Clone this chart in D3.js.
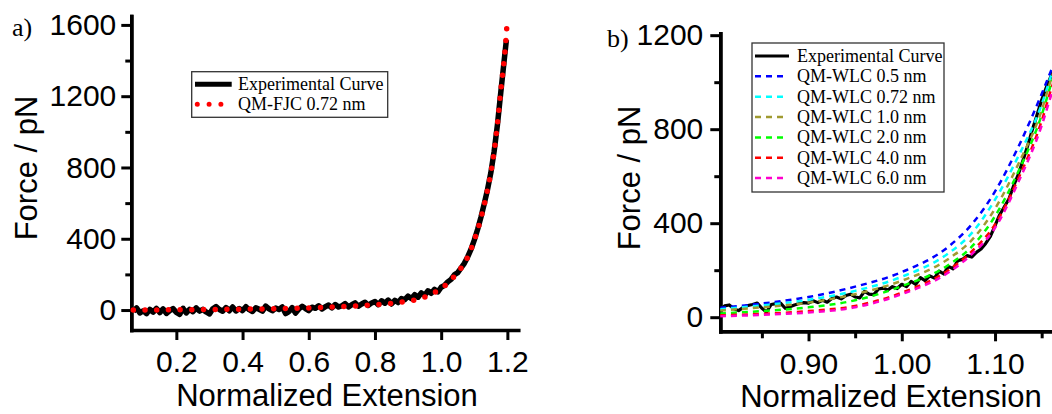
<html>
<head>
<script src="https://d3js.org/d3.v7.min.js"></script>
<style>
  body { margin: 0; background: #fff; }
  text { font-family: Arial, "Liberation Sans", sans-serif; fill: #000; }
  .axis path, .axis line { stroke: #000; }
  .axis path { stroke-width: 3.5; }
  .axis line { stroke-width: 3; }
  .axis text { font-size: 30px; }
  .title { font-size: 31px; }
  .ytitle { font-size: 31px; }
  .legend text, .panel { font-family: "Times New Roman", "Liberation Serif", serif; }
  .legend text { font-size: 18px; }
  .panel { font-size: 26px; }
</style>
</head>
<body>
<svg id="chart" width="1052" height="414"></svg>
<script>
// panel a: experimental curve
const extA = [0.07,0.08,0.09,0.10,0.11,0.12,0.13,0.14,0.15,0.16,0.17,0.18,0.19,0.20,0.21,0.22,0.23,0.24,0.25,0.26,
  0.27,0.28,0.29,0.30,0.31,0.32,0.33,0.34,0.35,0.36,0.37,0.38,0.39,0.40,0.41,0.42,0.43,0.44,0.45,0.46,
  0.47,0.48,0.49,0.50,0.51,0.52,0.53,0.54,0.55,0.56,0.57,0.58,0.59,0.60,0.61,0.62,0.63,0.64,0.65,0.66,
  0.67,0.68,0.69,0.70,0.71,0.72,0.73,0.74,0.75,0.76,0.77,0.78,0.79,0.80,0.81,0.82,0.83,0.84,0.85,0.86,
  0.87,0.88,0.89,0.90,0.91,0.92,0.93,0.94,0.95,0.96,0.97,0.98,0.99,1.00,1.01,1.02,1.03,1.04,1.05,1.06,
  1.07,1.08,1.09,1.10,1.11,1.12,1.13,1.14,1.15,1.16,1.17,1.18,1.19,1.197];
const forceA = [-8,12,-16,-4,-20,4,-12,9,-14,6,-19,-3,8,-13,-24,10,-16,4,-9,12,
  -6,4,-11,-22,7,19,3,-7,14,-4,17,-5,9,-3,19,2,-8,13,4,-6,
  22,7,-4,11,3,17,-20,-9,14,-17,6,21,8,-3,16,10,24,6,19,28,
  12,31,17,24,36,18,30,40,22,34,44,26,40,48,30,52,38,56,34,54,
  42,64,58,78,64,86,72,96,82,108,94,116,102,128,138,158,172,198,210,236,
  262,298,340,392,452,520,596,676,770,890,1040,1220,1395,1515];

// panel a: QM-FJC fit
const fjcExt = [0.07,0.15,0.25,0.35,0.45,0.55,0.62,0.68,0.74,0.80,0.85,0.88,0.91,0.94,0.97,1.00,1.02,1.04,1.06,1.08,
  1.10,1.12,1.13,1.14,1.15,1.16,1.17,1.18,1.19,1.195,1.20];
const fjcForce = [0,1,2,4,6,9,13,18,23,29,37,44,53,66,88,122,150,190,236,296,
  392,515,590,675,770,890,1045,1230,1400,1500,1640];

// panel b: experimental curve
const extB = [0.805,0.810,0.815,0.820,0.825,0.830,0.835,0.840,0.845,0.850,0.855,0.860,0.865,0.870,0.875,0.880,0.885,0.890,0.895,0.900,
  0.905,0.910,0.915,0.920,0.925,0.930,0.935,0.940,0.945,0.950,0.955,0.960,0.965,0.970,0.975,0.980,0.985,0.990,0.995,1.000,
  1.005,1.010,1.015,1.020,1.025,1.030,1.035,1.040,1.045,1.050,1.055,1.060,1.065,1.070,1.075,1.080,1.085,1.090,1.095,1.100,
  1.105,1.110,1.115,1.120,1.125,1.130,1.135,1.140,1.145,1.150,1.155,1.160,1.165];
const forceB = [30,48,52,36,28,42,50,54,60,38,22,54,58,60,38,44,52,58,62,60,
  70,62,72,64,80,86,78,92,98,86,82,110,98,96,120,124,116,130,122,140,
  130,152,140,168,156,176,166,196,184,216,206,240,246,262,256,276,290,314,344,390,
  436,470,504,560,608,668,730,798,860,924,978,1026,1070];

// panel b: QM-WLC fits
const wlcExt = [0.805,0.85,0.90,0.95,1.00,1.05,1.075,1.10,1.125,1.15,1.161,1.172];
const wlcNames = ["QM-WLC 0.5 nm","QM-WLC 0.72 nm","QM-WLC 1.0 nm","QM-WLC 2.0 nm","QM-WLC 4.0 nm","QM-WLC 6.0 nm"];
const wlcColors = ["#0000ff","#00ffff","#a09a30","#00ff00","#ff0000","#ff00cc"];
const wlc05 = [40,58,86,130,192,300,395,535,725,950,1058,1170];
const wlc072 = [34,50,74,112,172,272,358,500,685,905,1038,1150];
const wlc10 = [28,42,62,98,155,248,328,462,652,880,1023,1140];
const wlc20 = [16,26,42,72,132,222,300,430,620,860,1002,1120];
const wlc40 = [8,14,26,48,104,200,280,395,590,835,980,1100];
const wlc60 = [4,10,20,42,98,190,268,380,575,815,955,1080];
const wlcSeries = [wlc05, wlc072, wlc10, wlc20, wlc40, wlc60];

const xTicksA = [0.2,0.4,0.6,0.8,1.0,1.2];
const yTicksA = [0,400,800,1200,1600];
const yMinorA = [200,600,1000,1400];
const xTicksB = [0.90,1.00,1.10];
const xMinorB = [0.85,0.95,1.05,1.15];
const yTicksB = [0,400,800,1200];
const yMinorB = [200,600,1000];

const svg = d3.select("#chart");

const xA = d3.scaleLinear().domain([0.0639, 1.233]).range([131.3, 518.3]);
const yA = d3.scaleLinear().domain([-112, 1650]).range([330, 16]);
const xB = d3.scaleLinear().domain([0.8054, 1.1718]).range([720.3, 1062]);
const yB = d3.scaleLinear().domain([-60, 1208]).range([331.3, 33.3]);

function drawAxes(x, y, xt, xm, yt, ym, xfmt, ylabPad) {
  const x0 = x.range()[0], y0 = y.range()[0];
  if (ym) svg.append("g").attr("class", "axis").attr("transform", `translate(${x0},0)`)
    .call(d3.axisLeft(y).tickValues(ym).tickSize(6).tickSizeOuter(0).tickFormat(""));
  if (xm) svg.append("g").attr("class", "axis").attr("transform", `translate(0,${y0})`)
    .call(d3.axisBottom(x).tickValues(xm).tickSize(7).tickSizeOuter(0).tickFormat(""));
  svg.append("g").attr("class", "axis").attr("transform", `translate(${x0},0)`)
    .call(d3.axisLeft(y).tickValues(yt).tickSize(10).tickPadding(ylabPad).tickSizeOuter(0).tickFormat(d3.format("d")));
  svg.append("g").attr("class", "axis").attr("transform", `translate(0,${y0})`)
    .call(d3.axisBottom(x).tickValues(xt).tickSize(10).tickPadding(11).tickSizeOuter(0).tickFormat(d3.format(xfmt)));
  svg.selectAll(".axis path").attr("stroke-linecap", "square");
}

drawAxes(xA, yA, xTicksA, null, yTicksA, yMinorA, ".1f", 5);
drawAxes(xB, yB, xTicksB, xMinorB, yTicksB, yMinorB, ".2f", 7);

// clip for panel b data
svg.append("clipPath").attr("id", "clipB").append("rect")
  .attr("x", xB.range()[0]).attr("y", yB.range()[1]).attr("width", 400).attr("height", yB.range()[0] - yB.range()[1]);

const lineA = d3.line().x(d => xA(d[0])).y(d => yA(d[1]));
const lineB = d3.line().x(d => xB(d[0])).y(d => yB(d[1]));

// panel a curves
svg.append("path").attr("d", lineA(d3.zip(extA, forceA)))
  .attr("fill", "none").attr("stroke", "#000").attr("stroke-width", 5.5).attr("stroke-linejoin", "round");
svg.append("path").attr("d", lineA.curve(d3.curveMonotoneX)(d3.zip(fjcExt, fjcForce)))
  .attr("fill", "none").attr("stroke", "#ff0000").attr("stroke-width", 5.5)
  .attr("stroke-linecap", "round").attr("stroke-dasharray", "0 11.7");

// panel b curves
const gB = svg.append("g").attr("clip-path", "url(#clipB)");
gB.append("path").attr("d", lineB(d3.zip(extB, forceB)))
  .attr("fill", "none").attr("stroke", "#000").attr("stroke-width", 3.2).attr("stroke-linejoin", "round");
wlcSeries.forEach((s, i) => {
  gB.append("path").attr("d", lineB.curve(d3.curveMonotoneX)(d3.zip(wlcExt, s)))
    .attr("fill", "none").attr("stroke", wlcColors[i]).attr("stroke-width", 2.5)
    .attr("stroke-dasharray", "6 5");
});

// titles
svg.append("text").attr("class", "title").attr("x", 327).attr("y", 406).attr("text-anchor", "middle").text("Normalized Extension");
svg.append("text").attr("class", "title").attr("x", 891).attr("y", 407).attr("text-anchor", "middle").text("Normalized Extension");
svg.append("text").attr("class", "ytitle").attr("transform", "translate(37,168) rotate(-90)").attr("text-anchor", "middle").text("Force / pN");
svg.append("text").attr("class", "ytitle").attr("transform", "translate(640,178) rotate(-90)").attr("text-anchor", "middle").text("Force / pN");
svg.append("text").attr("class", "panel").attr("x", 12).attr("y", 36).text("a)");
svg.append("text").attr("class", "panel").attr("x", 607).attr("y", 47).text("b)");

// legend a
const legA = svg.append("g").attr("class", "legend");
legA.append("rect").attr("x", 191.7).attr("y", 71.7).attr("width", 196).attr("height", 45.6)
  .attr("fill", "#fff").attr("stroke", "#333").attr("stroke-width", 1.3);
legA.append("line").attr("x1", 195).attr("x2", 231.7).attr("y1", 84.3).attr("y2", 84.3)
  .attr("stroke", "#000").attr("stroke-width", 5);
legA.append("line").attr("x1", 197.3).attr("x2", 222).attr("y1", 104.3).attr("y2", 104.3)
  .attr("stroke", "#ff0000").attr("stroke-width", 5).attr("stroke-linecap", "round").attr("stroke-dasharray", "0 11.8");
legA.append("text").attr("x", 238).attr("y", 90).text("Experimental Curve");
legA.append("text").attr("x", 238).attr("y", 110).text("QM-FJC 0.72 nm");

// legend b
const legB = svg.append("g").attr("class", "legend");
legB.append("rect").attr("x", 752).attr("y", 43).attr("width", 192).attr("height", 149)
  .attr("fill", "#fff").attr("stroke", "#333").attr("stroke-width", 1.3);
const rowY = d => 56 + d * 20.35;
legB.append("line").attr("x1", 755).attr("x2", 789).attr("y1", rowY(0)).attr("y2", rowY(0))
  .attr("stroke", "#000").attr("stroke-width", 3);
legB.append("text").attr("x", 797).attr("y", rowY(0) + 6).text("Experimental Curve");
wlcNames.forEach((n, i) => {
  legB.append("line").attr("x1", 755).attr("x2", 788).attr("y1", rowY(i + 1)).attr("y2", rowY(i + 1))
    .attr("stroke", wlcColors[i]).attr("stroke-width", 2.5).attr("stroke-dasharray", "6 5");
  legB.append("text").attr("x", 797).attr("y", rowY(i + 1) + 6).text(n);
});
</script>
</body>
</html>
